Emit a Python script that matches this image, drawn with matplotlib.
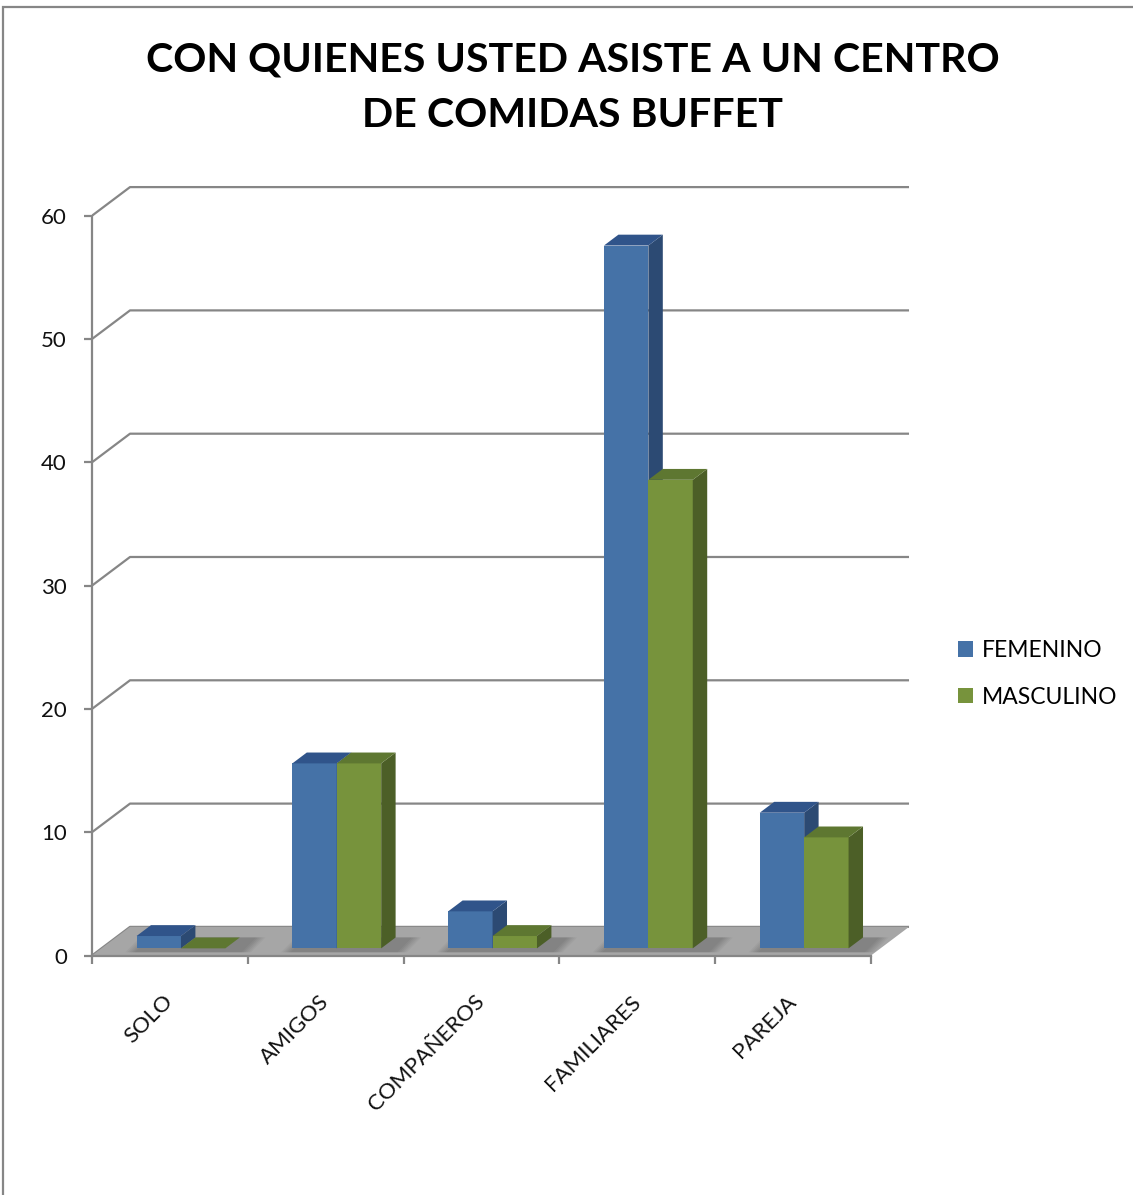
import matplotlib
matplotlib.use('Agg')
import matplotlib.pyplot as plt
from matplotlib.patches import Polygon, Rectangle, Patch

categories = ['SOLO', 'AMIGOS', 'COMPAÑEROS', 'FAMILIARES', 'PAREJA']
femenino = [1, 15, 3, 57, 11]
masculino = [0, 15, 1, 38, 9]
series_names = ['FEMENINO', 'MASCULINO']
y_ticks = [0, 10, 20, 30, 40, 50, 60]
title = 'CON QUIENES USTED ASISTE A UN CENTRO\nDE COMIDAS BUFFET'

plt.rcParams['font.family'] = ['Lato', 'DejaVu Sans']

W, H, DPI = 1133, 1195, 100
fig = plt.figure(figsize=(W / DPI, H / DPI), dpi=DPI)
fig.patch.set_facecolor('white')

GRID = '#868686'
FLOOR = '#A6A6A6'
BLUE = dict(front='#4572A7', top='#30548A', side='#2C4A73')
GREEN = dict(front='#77933C', top='#5E7731', side='#4C5F27')

# oblique depth of the plot box, in data units
DX, DY = 0.244, 2.32
# depth slice occupied by the columns
F0, F1 = 0.25, 0.63
BW = 0.285
BAR_START = 0.225

# axes geometry (front plane)
x0_px, y0_px = 92, 955.5
px_cat, px_val = 155.8, 12.33
xmax, ymax = 5.5, 64
ax = fig.add_axes([x0_px / W, (H - y0_px) / H,
                   xmax * px_cat / W, ymax * px_val / H])
ax.set_xlim(0, xmax)
ax.set_ylim(0, ymax)
ax.patch.set_alpha(0)

n = len(categories)

# back wall and side wall gridlines
for v in y_ticks:
    ax.plot([0, DX, n + DX], [v, v + DY, v + DY], color=GRID, lw=1.6,
            zorder=1, solid_capstyle='butt')

# floor
ax.add_patch(Polygon([(0, 0), (n, 0), (n + DX, DY), (DX, DY)],
                     closed=True, fc=FLOOR, ec='none', zorder=2))

d = F1 - F0

# soft shadows on the floor around each pair of columns
for i in range(n):
    left = i + BAR_START + F0 * DX
    right = left + 2 * BW + d * DX
    for k in range(6):
        e = 0.012 * (k + 1)
        ax.add_patch(Polygon(
            [(left - e, F0 * DY * 0.45), (right + e, F0 * DY * 0.45),
             (right + e + d * DX, F1 * DY), (left - e + d * DX, F1 * DY)],
            closed=True, fc='black', ec='none', alpha=0.035, zorder=2.5))

# columns
for i in range(n):
    for j, (vals, col) in enumerate([(femenino, BLUE), (masculino, GREEN)]):
        v = vals[i]
        bx = i + BAR_START + j * BW + F0 * DX
        by = F0 * DY
        z = 3 + i * 2 + j * 0.5
        ax.bar(bx, v, width=BW, bottom=by, align='edge', color=col['front'],
               edgecolor='none', zorder=z)
        top = [(bx, by + v), (bx + BW, by + v),
               (bx + BW + d * DX, by + v + d * DY), (bx + d * DX, by + v + d * DY)]
        side = [(bx + BW, by), (bx + BW + d * DX, by + d * DY),
                (bx + BW + d * DX, by + v + d * DY), (bx + BW, by + v)]
        ax.add_patch(Polygon(side, closed=True, fc=col['side'], ec='none',
                             zorder=z + 0.1))
        ax.add_patch(Polygon(top, closed=True, fc=col['top'], ec='none',
                             zorder=z + 0.2))

# axes
for s in ['top', 'right']:
    ax.spines[s].set_visible(False)
for s in ['left', 'bottom']:
    ax.spines[s].set_color(GRID)
    ax.spines[s].set_linewidth(1.6)
    ax.spines[s].set_zorder(20)
ax.spines['left'].set_bounds(0, y_ticks[-1])
ax.spines['bottom'].set_bounds(0, n)

ax.set_yticks(y_ticks)
ax.set_yticklabels([str(t) for t in y_ticks])
ax.tick_params(axis='y', direction='out', length=6, width=1.6, color=GRID,
               pad=12, labelsize=16, labelcolor='#111111')

ax.set_xticks([i + 0.5 for i in range(n)])
ax.set_xticklabels(categories, rotation=45, ha='right', va='center',
                   rotation_mode='anchor')
ax.set_xticks(list(range(n + 1)), minor=True)
ax.tick_params(axis='x', which='major', length=0, pad=31, labelsize=16,
               labelcolor='#111111')
ax.tick_params(axis='x', which='minor', direction='out', length=6, width=1.6,
               color=GRID)

# legend
handles = [Patch(fc=BLUE['front'], ec='none'), Patch(fc=GREEN['front'], ec='none')]
fig.legend(handles, series_names, loc='center left',
           bbox_to_anchor=(949 / W, 1 - 674 / H), frameon=False,
           fontsize=16.5, handlelength=0.65, handleheight=0.65,
           handletextpad=0.4, labelspacing=1.12, borderaxespad=0)

# title
fig.text(573 / W, 1 - 88 / H, title, ha='center', va='center',
         fontsize=29.6, fontweight='bold', linespacing=1.62)

# chart area border
fig.add_artist(Rectangle((3 / W, -0.05), 1.2, 1 - 7 / H + 0.05,
                         transform=fig.transFigure, fill=False,
                         ec=GRID, lw=1.6))

fig.savefig('out.png', dpi=DPI, facecolor='white')
